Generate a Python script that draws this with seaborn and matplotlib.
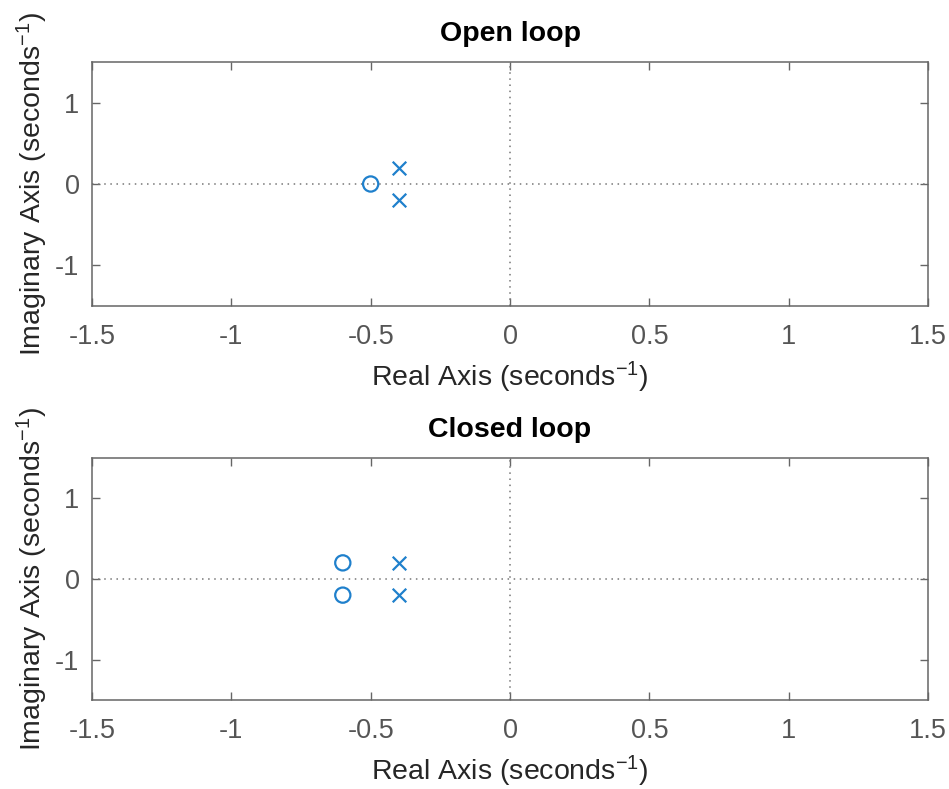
import matplotlib
matplotlib.use("Agg")
import matplotlib.pyplot as plt
import seaborn as sns
import pandas as pd

# Data
open_zeros_re = [-0.5]
open_zeros_im = [0.0]
open_poles_re = [-0.4, -0.4]
open_poles_im = [0.2, -0.2]
closed_zeros_re = [-0.6, -0.6]
closed_zeros_im = [0.2, -0.2]
closed_poles_re = [-0.4, -0.4]
closed_poles_im = [0.2, -0.2]
titles = ["Open loop", "Closed loop"]
xticks = [-1.5, -1, -0.5, 0, 0.5, 1, 1.5]
xticklabels = ["-1.5", "-1", "-0.5", "0", "0.5", "1", "1.5"]
yticks = [-1, 0, 1]
yticklabels = ["-1", "0", "1"]

sns.set_style("white")
plt.rcParams['font.family'] = ['Liberation Sans', 'DejaVu Sans']
plt.rcParams['mathtext.fontset'] = 'custom'
plt.rcParams['mathtext.rm'] = 'Liberation Sans'
plt.rcParams['mathtext.it'] = 'Liberation Sans'

blue = '#1f80cc'
gray = '#555555'
axcol = '#666666'

fig = plt.figure(figsize=(9.49, 7.89), dpi=100)
ax1 = fig.add_axes([92/949, 1-306/789, (928-92)/949, (306-62)/789])
ax2 = fig.add_axes([92/949, 1-700/789, (928-92)/949, (700-458)/789])

sets = [
    (ax1, open_zeros_re, open_zeros_im, open_poles_re, open_poles_im, titles[0]),
    (ax2, closed_zeros_re, closed_zeros_im, closed_poles_re, closed_poles_im, titles[1]),
]
for ax, zr, zi, pr, pi, title in sets:
    ax.axhline(0, color='#777777', linestyle=(0, (1, 3)), linewidth=1.1, zorder=1)
    ax.axvline(0, color='#777777', linestyle=(0, (1, 3)), linewidth=1.1, zorder=1)
    dz = pd.DataFrame({"re": zr, "im": zi})
    dp = pd.DataFrame({"re": pr, "im": pi})
    sns.scatterplot(data=dz, x="re", y="im", ax=ax, marker='o', s=120,
                    facecolors='none', edgecolor=blue, linewidth=1.6, zorder=3)
    sns.scatterplot(data=dp, x="re", y="im", ax=ax, marker='x', s=95,
                    color=blue, linewidth=1.6, zorder=3)
    ax.set_xlim(-1.5, 1.5)
    ax.set_ylim(-1.5, 1.5)
    ax.set_xticks(xticks)
    ax.set_xticklabels(xticklabels)
    ax.set_yticks(yticks)
    ax.set_yticklabels(yticklabels)
    ax.tick_params(direction='in', length=6, width=1, colors=axcol, labelcolor=gray,
                   labelsize=19.5, top=True, right=True, left=True, bottom=True)
    ax.tick_params(axis='x', pad=13)
    ax.tick_params(axis='y', pad=9)
    for s in ax.spines.values():
        s.set_color(axcol)
        s.set_linewidth(1.1)
        s.set_visible(True)
    ax.set_xlabel("Real Axis (seconds$^{-1}$)", fontsize=20.5, color='#262626', labelpad=7)
    ax.set_ylabel("Imaginary Axis (seconds$^{-1}$)", fontsize=20.5, color='#262626', labelpad=4)
    ax.set_title(title, fontsize=20.5, fontweight='bold', color='#000000', pad=15)

fig.savefig("out.png", dpi=100)
